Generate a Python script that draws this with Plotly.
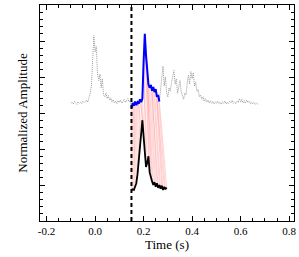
import plotly.graph_objects as go

# Gray (full recording, dotted) before and after the highlighted segment
gray_t_pre = [-0.100, -0.095, -0.090, -0.085, -0.080, -0.075, -0.070, -0.065, -0.060, -0.055,
              -0.050, -0.045, -0.040, -0.035, -0.030, -0.025, -0.020, -0.015, -0.010, -0.005,
              0.000, 0.005, 0.010, 0.015, 0.020, 0.025, 0.030, 0.035, 0.040, 0.045,
              0.050, 0.055, 0.060, 0.065, 0.070, 0.075, 0.080, 0.085, 0.090, 0.095,
              0.100, 0.105, 0.110, 0.115, 0.120, 0.125, 0.130, 0.135, 0.140, 0.145]
gray_y_pre = [3.27, 3.30, 3.25, 3.32, 3.28, 3.24, 3.31, 3.27, 3.30, 3.26,
              3.33, 3.29, 3.31, 3.36, 3.30, 3.40, 3.55, 3.75, 4.60, 5.15,
              4.70, 4.85, 4.10, 3.90, 4.08, 3.70, 3.95, 3.50, 3.45, 3.55,
              3.40, 3.48, 3.35, 3.42, 3.30, 3.37, 3.28, 3.33, 3.26, 3.34,
              3.29, 3.36, 3.27, 3.31, 3.38, 3.29, 3.33, 3.40, 3.31, 3.35]
gray_t_post = [0.270, 0.275, 0.280, 0.285, 0.290, 0.295, 0.300, 0.305, 0.310, 0.315,
               0.320, 0.325, 0.330, 0.335, 0.340, 0.345, 0.350, 0.355, 0.360, 0.365,
               0.370, 0.375, 0.380, 0.385, 0.390, 0.395, 0.400, 0.405, 0.410, 0.415,
               0.420, 0.425, 0.430, 0.435, 0.440, 0.445, 0.450, 0.455, 0.460, 0.465,
               0.470, 0.475, 0.480, 0.485, 0.490, 0.495, 0.500, 0.505, 0.510, 0.515,
               0.520, 0.525, 0.530, 0.535, 0.540, 0.545, 0.550, 0.555, 0.560, 0.565,
               0.570, 0.575, 0.580, 0.585, 0.590, 0.595, 0.600, 0.605, 0.610, 0.615,
               0.620, 0.625, 0.630, 0.635, 0.640, 0.645, 0.650, 0.655, 0.660, 0.665,
               0.670, 0.675]
gray_y_post = [3.70, 4.05, 4.30, 3.75, 4.00, 3.55, 3.45, 3.70, 3.60, 3.85,
               4.05, 4.18, 3.80, 3.95, 3.55, 3.75, 3.90, 3.60, 3.45, 3.38,
               3.55, 3.50, 3.85, 4.05, 3.80, 4.15, 3.95, 4.12, 3.75, 3.85,
               3.60, 3.65, 3.45, 3.50, 3.38, 3.45, 3.33, 3.40, 3.30, 3.36,
               3.28, 3.34, 3.27, 3.32, 3.25, 3.31, 3.27, 3.33, 3.26, 3.30,
               3.24, 3.31, 3.27, 3.33, 3.25, 3.30, 3.26, 3.32, 3.28, 3.35,
               3.27, 3.31, 3.26, 3.33, 3.29, 3.40, 3.30, 3.38, 3.28, 3.34,
               3.27, 3.36, 3.29, 3.33, 3.26, 3.31, 3.25, 3.29, 3.24, 3.28,
               3.25, 3.23]

# Blue highlighted segment
blue_t = [0.150, 0.155, 0.160, 0.165, 0.170, 0.175, 0.180, 0.185, 0.190, 0.195,
          0.200, 0.205, 0.210, 0.215, 0.220, 0.225, 0.230, 0.235, 0.240, 0.245,
          0.250, 0.255, 0.260, 0.265]
blue_y = [3.13, 3.28, 3.20, 3.32, 3.22, 3.30, 3.26, 3.38, 3.30, 3.40,
          4.40, 5.20, 4.60, 4.10, 3.80, 3.70, 3.78, 3.62, 3.72, 3.58,
          3.66, 3.45, 3.50, 3.32]

# Black template
black_t = [0.150, 0.155, 0.160, 0.165, 0.170, 0.175, 0.180, 0.185, 0.190, 0.195,
           0.200, 0.205, 0.210, 0.215, 0.220, 0.225, 0.230, 0.235, 0.240, 0.245,
           0.250, 0.255, 0.260, 0.265, 0.270, 0.275, 0.280, 0.285, 0.290, 0.295]
black_y = [0.85, 0.88, 0.86, 0.95, 1.05, 1.30, 1.65, 2.10, 2.55, 2.80,
           2.35, 1.85, 1.50, 1.62, 1.80, 1.35, 1.20, 1.10, 1.00, 1.08,
           0.95, 1.05, 0.92, 1.00, 0.90, 0.98, 0.86, 0.95, 0.88, 0.93]

onset_t = 0.15

# alignment lines (black sample i -> blue sample j)
link_x, link_y = [], []
nb, nk = len(blue_t), len(black_t)
for i in range(nk):
    j = round(i * (nb - 1) / (nk - 1))
    link_x += [blue_t[j], black_t[i], None]
    link_y += [blue_y[j], black_y[i], None]

gray_t = gray_t_pre + blue_t + gray_t_post
gray_y = gray_y_pre + blue_y + gray_y_post

fig = go.Figure()
fig.add_trace(go.Scatter(x=gray_t, y=gray_y, mode="lines",
                         line=dict(color="#9a9a9a", width=1, dash="1px,1px")))
fig.add_trace(go.Scatter(x=link_x, y=link_y, mode="lines",
                         line=dict(color="rgba(255,110,110,0.3)", width=1)))
fig.add_trace(go.Scatter(x=blue_t, y=blue_y, mode="lines",
                         line=dict(color="#0000ff", width=2)))
fig.add_trace(go.Scatter(x=black_t, y=black_y, mode="lines",
                         line=dict(color="#000000", width=1.8)))
fig.add_shape(type="line", x0=onset_t, x1=onset_t, y0=0, y1=1, yref="paper",
              line=dict(color="black", width=2, dash="4px,3px"))

axis_common = dict(showline=True, linecolor="black", linewidth=1, mirror="ticks",
                   ticks="inside", tickcolor="black", showgrid=False, zeroline=False)
fig.update_layout(
    width=299, height=257, showlegend=False,
    paper_bgcolor="white", plot_bgcolor="white",
    margin=dict(l=40, r=3, t=5, b=36),
    font=dict(family="Liberation Serif, Times New Roman, serif", size=11, color="black"),
    xaxis=dict(range=[-0.227, 0.820], tickvals=[-0.2, 0.0, 0.2, 0.4, 0.6, 0.8],
               ticktext=["-0.2", "0.0", "0.2", "0.4", "0.6", "0.8"], ticklen=5,
               minor=dict(dtick=0.05, tick0=0, ticks="inside", ticklen=3, tickcolor="black"),
               title=dict(text="Time (s)", standoff=2), **axis_common),
    yaxis=dict(range=[0, 6], dtick=1, ticklen=5, showticklabels=False,
               minor=dict(dtick=0.2, ticks="inside", ticklen=3, tickcolor="black"),
               title=dict(text="Normalized Amplitude", standoff=8), **axis_common),
)
fig.write_html("out.html", config={"displayModeBar": False},
               post_script="document.body.style.margin='0';document.body.style.overflow='hidden';")
